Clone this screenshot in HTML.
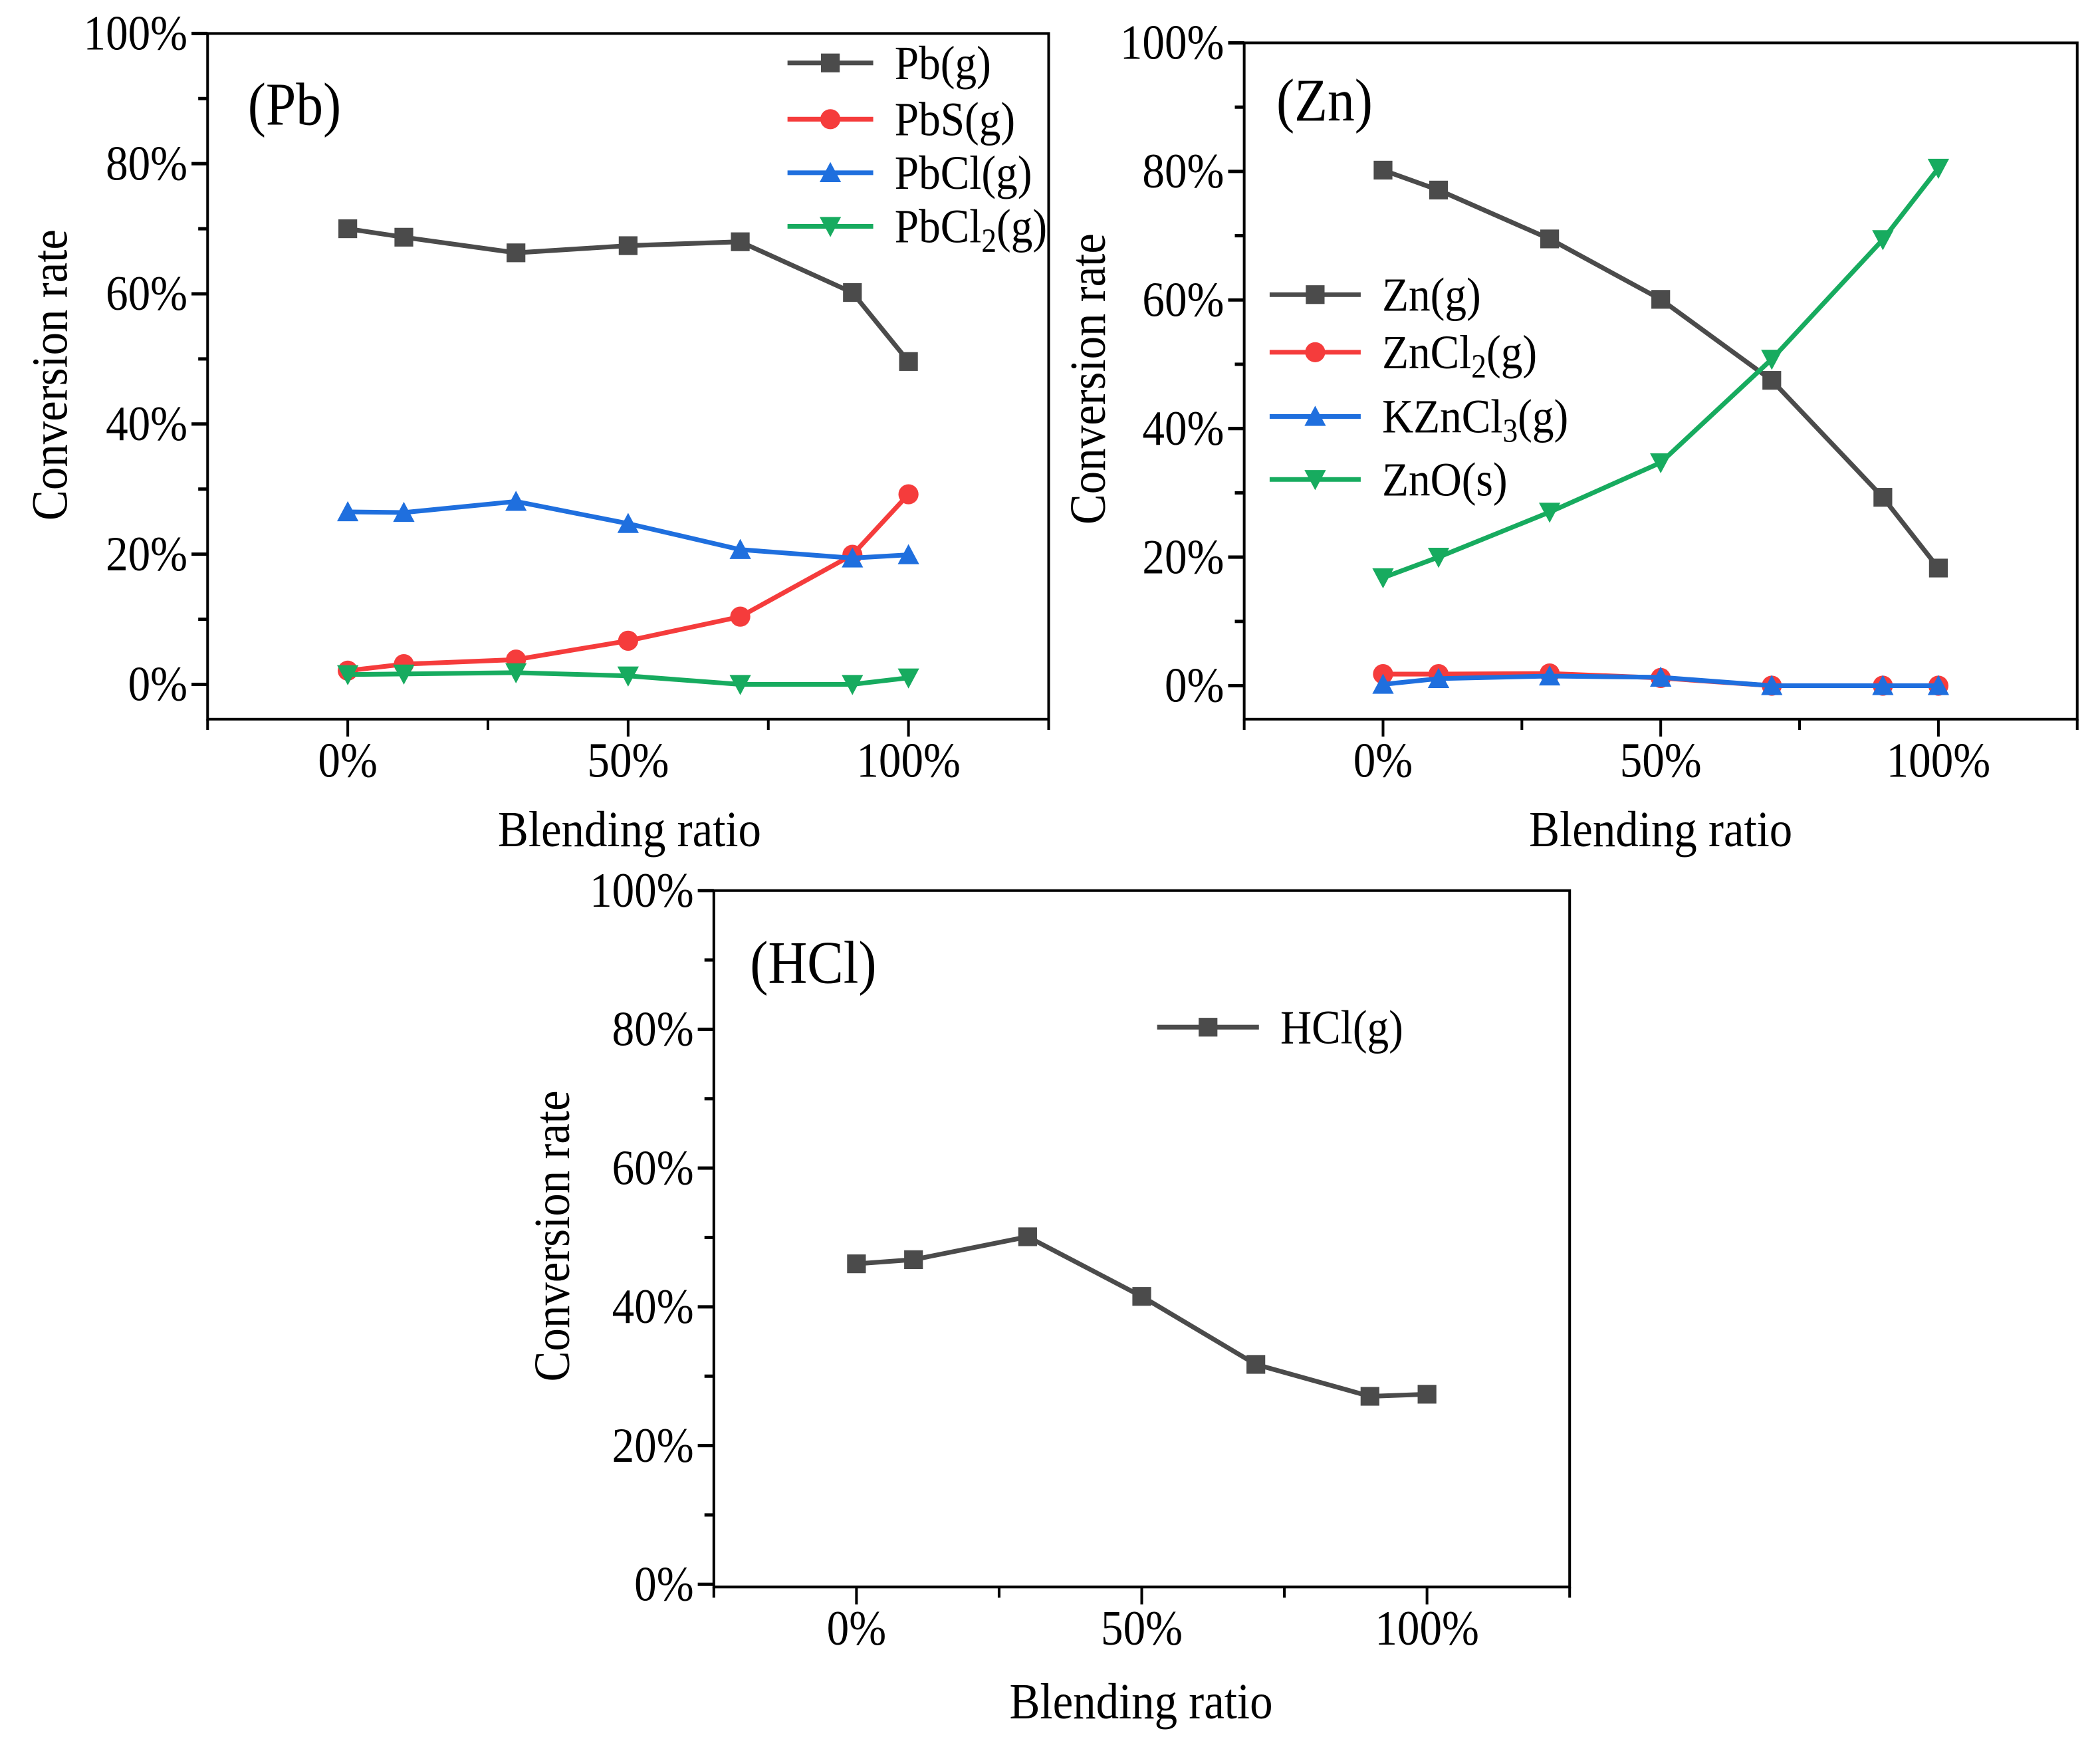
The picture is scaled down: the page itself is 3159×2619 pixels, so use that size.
<!DOCTYPE html>
<html><head><meta charset="utf-8"><style>html,body{margin:0;padding:0;background:#fff}svg{display:block}text{font-family:"Liberation Serif",serif;fill:#000}</style></head>
<body>
<svg id="fig" xmlns="http://www.w3.org/2000/svg" width="3159" height="2619" viewBox="0 0 1568 1300" preserveAspectRatio="none"></svg>
<script>
const xCats = [0, 10, 30, 50, 70, 90, 100];
const yTicks = [0, 20, 40, 60, 80, 100];
const yTickLabels = ["0%", "20%", "40%", "60%", "80%", "100%"];
const xTicks = [0, 50, 100];
const xTickLabels = ["0%", "50%", "100%"];
const pbG = [70, 68.7, 66.3, 67.4, 68, 60.2, 49.6];
const pbS = [2.1, 3.1, 3.8, 6.7, 10.4, 19.9, 29.2];
const pbCl = [26.5, 26.4, 28.1, 24.7, 20.7, 19.4, 19.9];
const pbCl2 = [1.5, 1.6, 1.8, 1.3, 0, 0, 1.0];
const znG = [80.2, 77.1, 69.5, 60.1, 47.5, 29.3, 18.3];
const znCl2 = [1.8, 1.8, 1.9, 1.2, 0, 0, 0];
const kznCl3 = [0.2, 1.1, 1.5, 1.3, 0, 0, 0];
const znO = [16.8, 20, 27, 34.7, 50.8, 69.4, 80.5];
const hclG = [46.2, 46.8, 50.1, 41.5, 31.7, 27.1, 27.4];

const NS = "http://www.w3.org/2000/svg";
const svg = document.getElementById('fig');
const C = {grey:'#4b4b4b', red:'#f53c3c', blue:'#1f6fde', green:'#17ab5f'};
function mk(tag, attrs, parent){const e=document.createElementNS(NS,tag);for(const k in attrs)e.setAttribute(k,attrs[k]);(parent||svg).appendChild(e);return e;}
function txt(s, x, y, size, anchor, parent, rot){
  const g=mk('g',{transform:`translate(${x},${y})`+(rot?` rotate(${rot})`:'')+' scale(0.9,1)'},parent);
  const t=mk('text',{x:0,y:0,'font-size':size,'text-anchor':anchor||'start'},g);
  t.innerHTML=s;return t;
}
function marker(type,x,y,color,parent){
  const s=7;
  if(type==='sq') return mk('rect',{x:x-s,y:y-s,width:2*s,height:2*s,fill:color},parent);
  if(type==='ci') return mk('circle',{cx:x,cy:y,r:s+0.5,fill:color},parent);
  if(type==='up') return mk('polygon',{points:`${x-s-1},${y+s} ${x+s+1},${y+s} ${x},${y-s-1}`,fill:color},parent);
  return mk('polygon',{points:`${x-s-1},${y-s} ${x+s+1},${y-s} ${x},${y+s+1}`,fill:color},parent);
}
function panel(P){
  const g=mk('g',{});
  
  
  const sx=v=>P.x0+(v+25)/150*(P.x1-P.x0);
  const sy=v=>P.y0-v/100*(P.y0-P.y100);
  const f=mk('rect',{x:P.x0,y:P.top,width:P.x1-P.x0,height:P.bot-P.top,fill:'none',stroke:'#000','stroke-width':2},g);
  
  
  for(let v=0;v<=100;v+=10){const maj=v%20===0;mk('line',{x1:P.x0,x2:P.x0-(maj?12:7),y1:sy(v),y2:sy(v),stroke:'#000','stroke-width':2.5},g);}
  yTicks.forEach((v,i)=>{const t=txt(yTickLabels[i],P.x0-15,sy(v)+12,37,'end',g);});
  for(let v=-25;v<=125;v+=25){const maj=v%50===0;mk('line',{x1:sx(v),x2:sx(v),y1:P.bot,y2:P.bot+(maj?13:8),stroke:'#000','stroke-width':2},g);}
  xTicks.forEach((v,i)=>{const t=txt(xTickLabels[i],sx(v),P.bot+43,37,'middle',g);});
  const yt=txt('Conversion rate',P.ytx,P.yty,38,'middle',g,-90);
  
  
  const xt=txt('Blending ratio',P.xtx,P.xty,38,'middle',g);
  
  
  const pl=txt(P.label,P.lx,P.ly,45,'start',g);
  
  
  P.series.forEach((s,si)=>{
    const sg=mk('g',{},g);
    
    
    const pts=s.data.map((v,i)=>`${sx(xCats[i])},${sy(v)}`).join(' ');
    mk('polyline',{points:pts,fill:'none',stroke:s.color,'stroke-width':3.5,'stroke-linejoin':'round'},sg);
    s.data.forEach((v,i)=>{const m=marker(s.m,sx(xCats[i]),sy(v),s.color,sg);});
    const lg=mk('g',{},g);
    
    
    const ly=P.legY[si];
    mk('line',{x1:P.legX,x2:P.legX+P.legW,y1:ly,y2:ly,stroke:s.color,'stroke-width':3.5},lg);
    marker(s.m,P.legX+P.legW/2,ly,s.color,lg);
    txt(s.label,P.legX+P.legW+16,ly+12,36,'start',lg);
  });
}
panel({name:'pb-panel',x0:155,x1:783,top:25,bot:537,y0:511,y100:25,ytx:50,yty:280,xtx:470,xty:632,label:'(Pb)',lx:185,ly:93,
  legX:588,legW:64,legY:[47,89,129,169],
  series:[{key:'pb-g',label:'Pb(g)',data:pbG,color:C.grey,m:'sq'},{key:'pbs-g',label:'PbS(g)',data:pbS,color:C.red,m:'ci'},
  {key:'pbcl-g',label:'PbCl(g)',data:pbCl,color:C.blue,m:'up'},{key:'pbcl2-g',label:'PbCl<tspan font-size="25" dy="7">2</tspan><tspan dy="-7">(g)</tspan>',data:pbCl2,color:C.green,m:'dn'}]});
panel({name:'zn-panel',x0:929,x1:1551,top:32,bot:537,y0:512,y100:32,ytx:825,yty:283,xtx:1240,xty:632,label:'(Zn)',lx:953,ly:90,
  legX:948,legW:68,legY:[220,263,311,358],
  series:[{key:'zn-g',label:'Zn(g)',data:znG,color:C.grey,m:'sq'},{key:'zncl2-g',label:'ZnCl<tspan font-size="25" dy="7">2</tspan><tspan dy="-7">(g)</tspan>',data:znCl2,color:C.red,m:'ci'},
  {key:'kzncl3-g',label:'KZnCl<tspan font-size="25" dy="7">3</tspan><tspan dy="-7">(g)</tspan>',data:kznCl3,color:C.blue,m:'up'},{key:'zno-s',label:'ZnO(s)',data:znO,color:C.green,m:'dn'}]});
panel({name:'hcl-panel',x0:533,x1:1172,top:665,bot:1185,y0:1183,y100:665,ytx:425,yty:923,xtx:852,xty:1283,label:'(HCl)',lx:560,ly:734,
  legX:864,legW:76,legY:[767],
  series:[{key:'hcl-g',label:'HCl(g)',data:hclG,color:C.grey,m:'sq'}]});
</script>
</body></html>
